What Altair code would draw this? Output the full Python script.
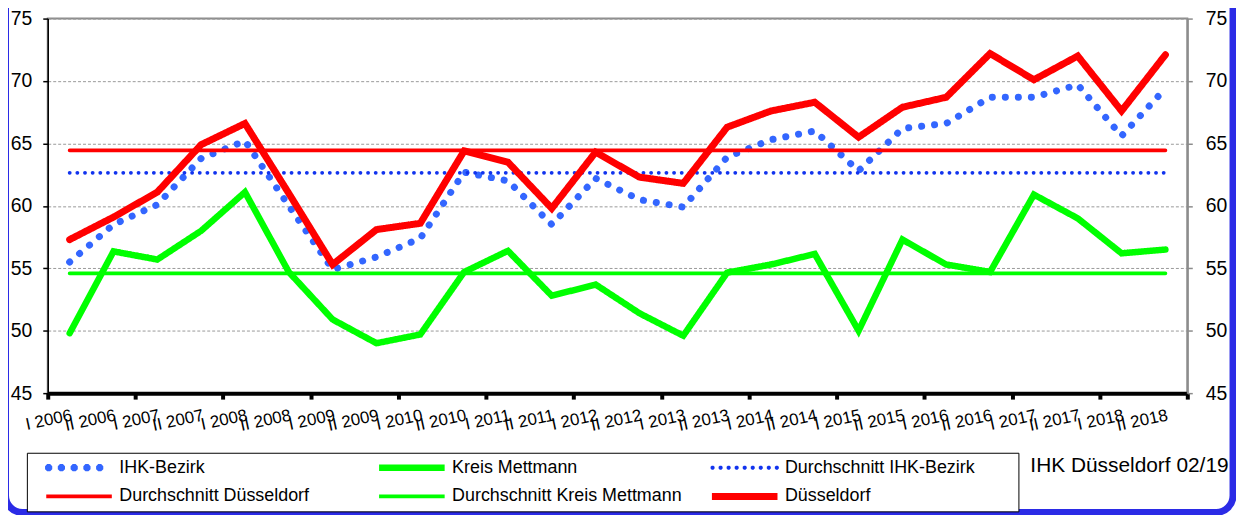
import json
import math
import altair as alt
import pandas as pd

FONT = "Liberation Sans, Arial, sans-serif"

labels = [
    "I 2006", "II 2006", "I 2007", "II 2007", "I 2008", "II 2008", "I 2009", "II 2009",
    "I 2010", "II 2010", "I 2011", "II 2011", "I 2012", "II 2012", "I 2013", "II 2013",
    "I 2014", "II 2014", "I 2015", "II 2015", "I 2016", "II 2016", "I 2017", "II 2017",
    "I 2018", "II 2018",
]
ihk_bezirk = [55.5, 58.5, 60.1, 63.8, 65.2, 60.0, 54.9, 55.9, 57.4, 62.7, 62.0, 58.5, 62.2,
              60.5, 59.9, 63.9, 65.3, 66.0, 62.8, 66.2, 66.6, 68.7, 68.7, 69.7, 65.6, 69.4]
kreis_mettmann = [49.8, 56.35, 55.7, 58.0, 61.1, 54.7, 50.9, 49.0, 49.7, 54.7, 56.4, 52.8, 53.7,
                  51.4, 49.6, 54.65, 55.3, 56.15, 50.0, 57.3, 55.3, 54.7, 60.9, 59.0, 56.2, 56.5]
duesseldorf = [57.3, 59.1, 61.1, 64.9, 66.6, 61.0, 55.3, 58.1, 58.6, 64.4, 63.5, 59.8, 64.3,
               62.3, 61.8, 66.3, 67.6, 68.3, 65.5, 67.9, 68.7, 72.2, 70.1, 72.0, 67.6, 72.1]
avg_ihk = 62.65
avg_duesseldorf = 64.45
avg_kreis = 54.6

series_order = ["IHK-Bezirk", "Kreis Mettmann", "Durchschnitt IHK-Bezirk",
                "Durchschnitt Düsseldorf", "Durchschnitt Kreis Mettmann", "Düsseldorf"]
series_colors = ["#3366FF", "#00FF00", "#1133EE", "#FF0000", "#00FF00", "#FF0000"]
series_dash = [[0.1, 13], [1, 0], [0.1, 7.6], [1, 0], [1, 0], [1, 0]]
series_width = [7, 6.5, 3.8, 3.8, 3.8, 7]
note = ["IHK Düsseldorf 02/19"]


def dots_path(centers, r=0.004):
    # tiny octagons: with a thick stroke each one renders as a round dot
    parts = []
    for c in centers:
        pts = [(c + r * math.cos(math.pi / 8 + k * math.pi / 4),
                r * math.sin(math.pi / 8 + k * math.pi / 4)) for k in range(8)]
        seg = "M" + "L".join(f"{px:.5f},{py:.5f}" for px, py in pts) + "Z"
        parts.append(seg)
    return "".join(parts)


LINE_PATH = "M-1,0L1,0"
legend_shapes = [
    dots_path([-0.927, -0.538, -0.148, 0.241, 0.630]),
    LINE_PATH,
    dots_path([-0.98 + 0.245 * k for k in range(9)]),
    LINE_PATH,
    LINE_PATH,
    LINE_PATH,
]

n = len(labels)
values_by_series = {
    "IHK-Bezirk": ihk_bezirk,
    "Kreis Mettmann": kreis_mettmann,
    "Durchschnitt IHK-Bezirk": [avg_ihk] * n,
    "Durchschnitt Düsseldorf": [avg_duesseldorf] * n,
    "Durchschnitt Kreis Mettmann": [avg_kreis] * n,
    "Düsseldorf": duesseldorf,
}
rows = []
for s in series_order:
    for i, (lab, v) in enumerate(zip(labels, values_by_series[s])):
        rows.append({"idx": i, "label": lab, "series": s, "value": v})
df = pd.DataFrame(rows)

x_scale = alt.Scale(domain=[-0.5, n - 0.5], nice=False, zero=False)
y_scale = alt.Scale(domain=[45, 75], nice=False, zero=False)
y_values = [45, 50, 55, 60, 65, 70, 75]

x_axis_ticks = alt.Axis(orient="bottom", values=[k - 0.5 for k in range(0, n + 1, 2)],
                        labels=False, grid=False, domainColor="black", domainWidth=4,
                        tickColor="black", tickWidth=4, tickSize=6, title=None)
x_axis_labels = alt.Axis(orient="bottom", values=list(range(n)), ticks=False, domain=False,
                         grid=False, labelExpr=json.dumps(labels) + "[round(datum.value)]",
                         labelAngle=348, labelAlign="right", labelBaseline="top",
                         labelPadding=14, labelFont=FONT, labelFontSize=17,
                         labelColor="black", labelFlush=False, labelOverlap=False,
                         labelBound=False, title=None)
y_axis_left = alt.Axis(orient="left", values=y_values, grid=True, gridColor="#999999",
                       gridDash=[3, 2], gridWidth=1, domainColor="black", domainWidth=1.5,
                       tickColor="black", tickSize=5, tickWidth=1.5, labelFont=FONT,
                       labelFontSize=19.5, labelColor="black", labelPadding=11, title=None)
y_axis_right = alt.Axis(orient="right", values=y_values, grid=False, domainColor="#8C8C8C",
                        domainWidth=2, tickColor="#8C8C8C", tickSize=5, tickWidth=1.5,
                        labelFont=FONT, labelFontSize=19.5, labelColor="black",
                        labelPadding=13, title=None)

legend = alt.Legend(title="\u00a0", titleOrient="right", titlePadding=38, titleFontSize=8,
                    orient="none", legendX=-21, legendY=437, columns=3,
                    direction="horizontal", gridAlign="all",
                    symbolSize=4356, clipHeight=18, rowPadding=11,
                    columnPadding=16, padding=6, labelOffset=4, symbolOffset=10,
                    labelFont=FONT, labelFontSize=18, labelColor="black",
                    labelLimit=400, strokeColor="black", fillColor="white",
                    symbolOpacity=1)

color_scale = alt.Scale(domain=series_order, range=series_colors)
width_scale = alt.Scale(type="ordinal", domain=series_order, range=series_width)
dash_scale = alt.Scale(type="ordinal", domain=series_order, range=series_dash)
shape_scale = alt.Scale(domain=series_order, range=legend_shapes)

layers = []
frame = alt.Chart(pd.DataFrame({"f": [0]})).mark_rect(
    filled=False, stroke="#2B2BE6", strokeWidth=7, cornerRadius=17
).encode(x=alt.value(-42.5), x2=alt.value(1193), y=alt.value(-100), y2=alt.value(497))
layers.append(frame)

for k, s in enumerate(series_order):
    if k == 0:
        xa, ya = x_axis_ticks, y_axis_left
    elif k == 1:
        xa, ya = x_axis_labels, y_axis_right
    else:
        xa, ya = None, None
    layer = alt.Chart(df).transform_filter(alt.datum.series == s).mark_line(
        strokeCap="round", strokeJoin="miter"
    ).encode(
        x=alt.X("idx:Q", scale=x_scale, axis=xa),
        y=alt.Y("value:Q", scale=y_scale, axis=ya),
        color=alt.Color("series:N", scale=color_scale, legend=None),
        strokeDash=alt.StrokeDash("series:N", scale=dash_scale, legend=None),
        strokeWidth=alt.StrokeWidth("series:N", scale=width_scale, legend=None),
    )
    layers.append(layer)

# legend carrier: point layer with no visible rows, symbols come from the scales
legend_layer = alt.Chart(df).transform_filter("datum.idx < 0").mark_point(
    filled=False, opacity=1, size=4356
).encode(
    x=alt.X("idx:Q", scale=x_scale, axis=None),
    y=alt.Y("value:Q", scale=y_scale, axis=None),
    color=alt.Color("series:N", scale=color_scale, legend=legend),
    shape=alt.Shape("series:N", scale=shape_scale, legend=legend),
    strokeWidth=alt.StrokeWidth("series:N", scale=width_scale, legend=legend),
)
layers.append(legend_layer)

note_layer = alt.Chart(pd.DataFrame({"note": note})).mark_text(
    align="left", baseline="middle", font=FONT, fontSize=21, color="black"
).encode(x=alt.value(989), y=alt.value(450), text="note:N")
layers.append(note_layer)

chart = alt.layer(*layers).resolve_axis(
    x="independent", y="independent"
).resolve_legend(
    color="independent", shape="independent", strokeWidth="independent",
    strokeDash="independent"
).properties(
    width=1147, height=377,
    padding={"left": 40, "top": 9, "right": 49, "bottom": 121},
    autosize=alt.AutoSizeParams(type="none"),
    background="white",
).configure_view(stroke="#8C8C8C", strokeWidth=2)

chart.save("out.html", embed_options={"renderer": "svg", "actions": False})
